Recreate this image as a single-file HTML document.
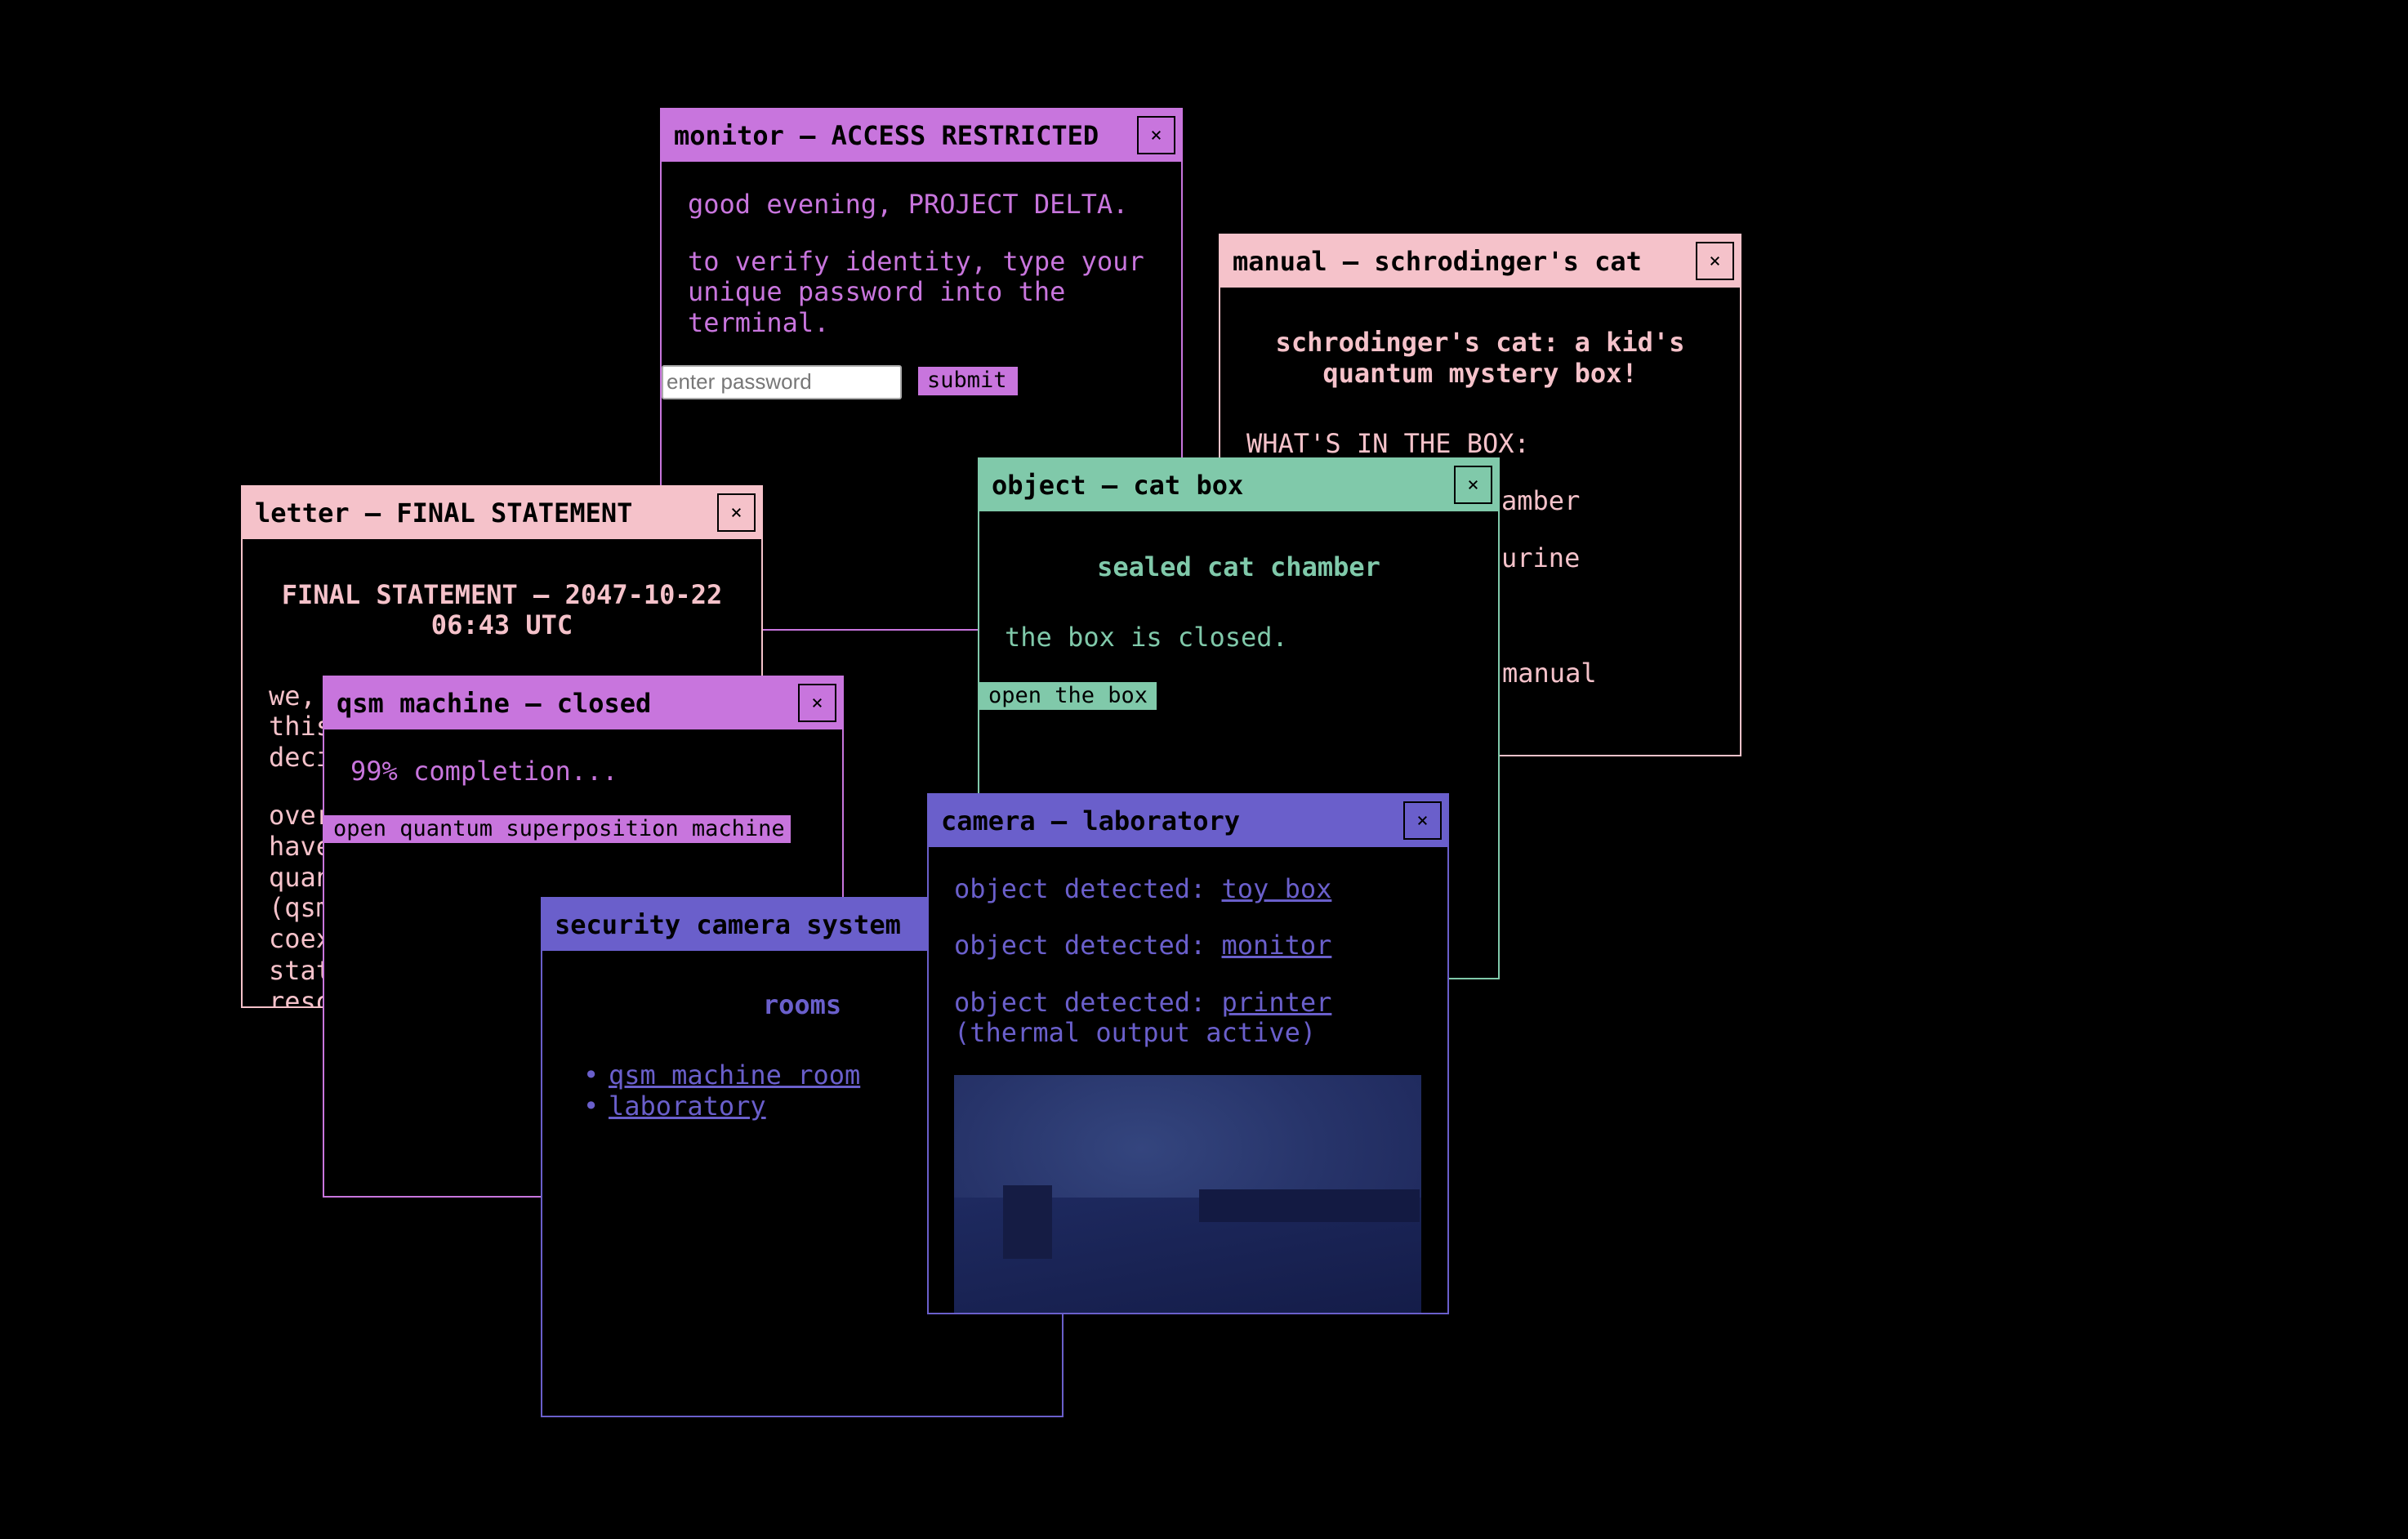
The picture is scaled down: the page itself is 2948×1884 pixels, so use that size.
<!DOCTYPE html>
<html><head><meta charset="utf-8"><style>
html,body{margin:0;padding:0;background:#000;width:2948px;height:1884px;overflow:hidden}
*{box-sizing:border-box}
.w{position:absolute;background:#000;border:2px solid;overflow:hidden;font-family:"DejaVu Sans Mono","Liberation Mono",monospace;font-size:32px}
.h{position:absolute;left:0;top:0;right:0;height:64px;color:#000;font-weight:bold;line-height:64px;padding-left:15px;white-space:nowrap}
.x{position:absolute;top:8px;right:7px;width:47px;height:47px;border:2px solid #000;font-weight:normal;font-size:24px;line-height:42px;text-align:center;color:#000}
.t{position:absolute;line-height:38px;white-space:nowrap}
.c{left:0;right:0;text-align:center;font-weight:bold}
.btn{position:absolute;color:#000;font-size:27px;line-height:33px;padding-left:11px;white-space:nowrap}
a{color:inherit;text-decoration:underline}
.P{border-color:#c875dd;color:#c875dd}.P .h,.P .btn{background:#c875dd}
.K{border-color:#f5c2ca;color:#f5c2ca}.K .h{background:#f5c2ca}
.G{border-color:#80c9aa;color:#80c9aa}.G .h,.G .btn{background:#80c9aa}
.B{border-color:#6a5fcb;color:#6a5fcb}.B .h{background:#6a5fcb}
</style></head><body>

<div class="w P" style="left:808px;top:132px;width:640px;height:640px">
 <div class="h">monitor – ACCESS RESTRICTED<div class="x">×</div></div>
 <div class="t" style="left:32px;top:97px">good evening, PROJECT DELTA.</div>
 <div class="t" style="left:32px;top:167px">to verify identity, type your</div>
 <div class="t" style="left:32px;top:204px">unique password into the</div>
 <div class="t" style="left:32px;top:242px">terminal.</div>
 <div style="position:absolute;left:0;top:313px;width:294px;height:42px;background:#fff;border:2px solid #aaa;border-radius:3px;color:#777;font-family:'Liberation Sans',sans-serif;font-size:26px;line-height:36px;padding-left:4px">enter password</div>
 <div class="btn" style="left:314px;top:315px;width:122px;height:35px;font-size:27px">submit</div>
</div>

<div class="w K" style="left:1492px;top:286px;width:640px;height:640px">
 <div class="h">manual – schrodinger's cat<div class="x">×</div></div>
 <div class="t c" style="top:112px">schrodinger's cat: a kid's</div>
 <div class="t c" style="top:150px">quantum mystery box!</div>
 <div class="t" style="left:32px;top:236px">WHAT'S IN THE BOX:</div>
 <div class="t" style="left:32px;top:306px">1x sealed cat ch</div><div class="t" style="left:344px;top:306px">amber</div>
 <div class="t" style="left:32px;top:376px">1x plush cat fig</div><div class="t" style="left:344px;top:376px">urine</div>
 <div class="t" style="left:32px;top:446px">1x toy bowl</div>
 <div class="t" style="left:32px;top:517px">1x instruction</div><div class="t" style="left:345px;top:517px">manual</div>
</div>

<div class="w K" style="left:295px;top:594px;width:639px;height:640px">
 <div class="h">letter – FINAL STATEMENT<div class="x">×</div></div>
 <div class="t c" style="top:113px">FINAL STATEMENT – 2047-10-22</div>
 <div class="t c" style="top:150px">06:43 UTC</div>
 <div class="t" style="left:32px;top:237px">we, the researchers</div>
 <div class="t" style="left:32px;top:274px">this facility, have</div>
 <div class="t" style="left:32px;top:312px">decided to</div>
 <div class="t" style="left:32px;top:383px">over the years we</div>
 <div class="t" style="left:32px;top:421px">have built a</div>
 <div class="t" style="left:32px;top:459px">quantum machine</div>
 <div class="t" style="left:32px;top:496px">(qsm) that allows</div>
 <div class="t" style="left:32px;top:534px">coexisting</div>
 <div class="t" style="left:32px;top:573px">states until</div>
 <div class="t" style="left:32px;top:611px">resolved</div>
</div>

<div class="w G" style="left:1197px;top:560px;width:639px;height:639px">
 <div class="h">object – cat box<div class="x">×</div></div>
 <div class="t c" style="top:113px">sealed cat chamber</div>
 <div class="t" style="left:31px;top:199px">the box is closed.</div>
 <div class="btn" style="left:0;top:273px;width:217px;height:34px">open the box</div>
</div>

<div class="w P" style="left:395px;top:827px;width:638px;height:639px">
 <div class="h">qsm machine – closed<div class="x">×</div></div>
 <div class="t" style="left:32px;top:96px">99% completion...</div>
 <div class="btn" style="left:0;top:169px;width:571px;height:34px">open quantum superposition machine</div>
</div>

<div class="w B" style="left:662px;top:1098px;width:640px;height:637px">
 <div class="h">security camera system</div>
 <div class="t c" style="top:111px">rooms</div>
 <div class="t" style="left:50px;top:197px">•</div>
 <div class="t" style="left:50px;top:235px">•</div>
 <div class="t" style="left:81px;top:197px"><a>qsm machine room</a></div>
 <div class="t" style="left:81px;top:235px"><a>laboratory</a></div>
</div>

<div class="w B" style="left:1135px;top:971px;width:639px;height:638px">
 <div class="h">camera – laboratory<div class="x">×</div></div>
 <div class="t" style="left:31px;top:96px">object detected: <a>toy box</a></div>
 <div class="t" style="left:31px;top:165px">object detected: <a>monitor</a></div>
 <div class="t" style="left:31px;top:235px">object detected: <a>printer</a></div>
 <div class="t" style="left:31px;top:272px">(thermal output active)</div>
 <div style="position:absolute;left:31px;top:343px;width:572px;height:300px;background:radial-gradient(ellipse at 40% 30%,#34457e 0%,#27346a 45%,#1b2456 100%)">
  <div style="position:absolute;left:0;top:150px;width:572px;height:150px;background:linear-gradient(170deg,#1e2a60,#141c48)"></div>
  <div style="position:absolute;left:60px;top:135px;width:60px;height:90px;background:#151c44"></div>
  <div style="position:absolute;left:300px;top:140px;width:270px;height:40px;background:#131a42"></div>
 </div>
</div>

</body></html>
